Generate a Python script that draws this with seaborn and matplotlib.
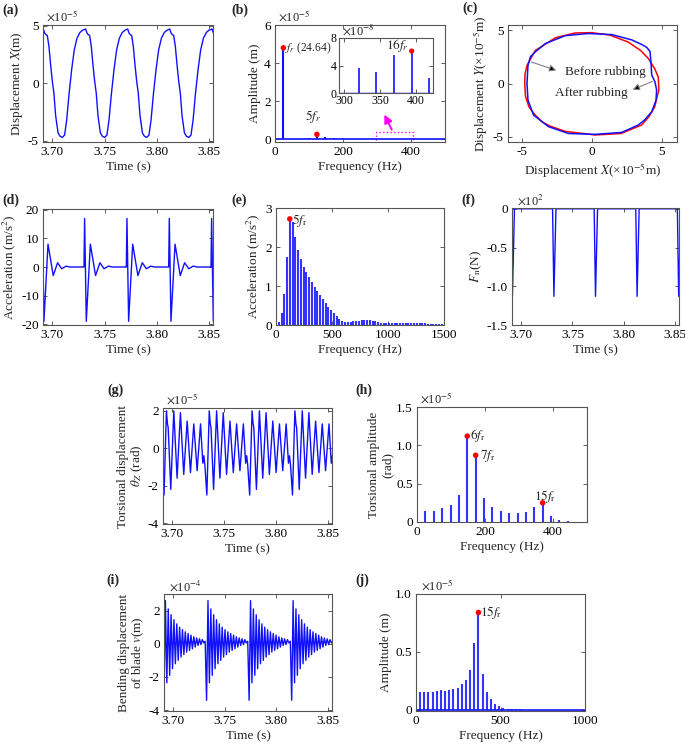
import numpy as np
import matplotlib
matplotlib.use("Agg")
import matplotlib.pyplot as plt
import seaborn as sns
from matplotlib.patches import Rectangle

# ---- data ----
FR = 24.64
T_LIM = (3.691, 3.854)

# (a) displacement X, one period after each peak (ms offsets), x1e-5 m
A_PEAK_T = [3.6507, 3.6913, 3.7319, 3.7722, 3.8125, 3.8531]
A_OFF_MS = [0, 1.3, 2.6, 3.8, 5.4, 7.0, 8.6, 10.2, 11.8, 14.1, 16.0, 18.2,
            20.4, 22.4, 24.6, 27.2, 29.7, 32.3, 35.1, 37.7]
A_VAL = [4.7, 4.35, 4.2, 4.15, 3.2, 1.6, 0.2, -0.9, -2.8, -4.3, -4.6, -4.7,
         -4.5, -3.2, -1.0, 1.2, 2.9, 3.9, 4.4, 4.6]

# (b) displacement spectrum, x1e-5 m
B_ORDER = np.arange(1, 21)
B_AMP = [4.8, 0.03, 0.03, 0.05, 0.25, 0.12, 0.04, 0.03, 0.03, 0.03,
         0.02, 0.02, 0.02, 0.02, 0.02, 0.02, 0.02, 0.02, 0.02, 0.02]
# inset, x1e-8 m
BI_ORDER = [13, 14, 15, 16, 17]
BI_AMP = [3.6, 3.1, 5.6, 6.1, 2.2]

# (c) orbits, x1e-5 m
C_RED_X = [0, 1.3, 2.6, 3.5, 4.05, 4.5, 4.76, 4.8, 4.5, 4.1, 3.57, 2.1, 0.24,
           -1.9, -3.0, -3.57, -4.1, -4.5, -4.75, -4.8, -4.78, -4.64, -4.05, -2.6, -1.2, 0]
C_RED_Y = [4.78, 4.55, 3.9, 3.1, 2.34, 1.4, 0.6, -0.6, -2.2, -3.1, -3.9, -4.7, -4.84,
           -4.5, -4.0, -3.6, -2.9, -2.2, -1.2, 0, 0.9, 1.7, 3.1, 4.3, 4.75, 4.78]
C_BLUE_X = [-0.24, 1.43, 2.86, 3.6, 3.93, 4.17, 4.24, 4.29, 4.52, 4.64, 4.6, 4.29, 3.8,
            3.33, 2.14, 0.24, -1.67, -3.1, -4.17, -4.57, -4.64, -4.57, -4.4, -4.05,
            -3.33, -1.9, -0.24]
C_BLUE_Y = [4.7, 4.6, 4.1, 3.65, 3.4, 3.0, 1.9, 0.8, 0.16, -0.6, -1.56, -2.66, -3.4,
            -3.9, -4.6, -4.78, -4.7, -4.06, -2.97, -1.56, 0, 1.7, 2.5, 2.97,
            3.75, 4.5, 4.7]

# (d) acceleration, one period after each impact
D_T = [3.6903, 3.7309, 3.7715, 3.8121, 3.8527]
D_OFF_MS = [-0.6, 0, 1.6, 5.5, 10.5, 14.7, 18.6, 22.9, 26.5, 39.5]
D_VAL = [0, 17, -19, 8, -3, 1.5, -0.6, 0.3, 0, 0]

# (e) acceleration spectrum
E_ORDER = np.arange(1, 61)
E_AMP = [0.08, 0.3, 0.8, 1.75, 2.72, 2.65, 2.25, 1.92, 1.68, 1.5,
         1.35, 1.22, 1.1, 0.98, 0.87, 0.76, 0.67, 0.56, 0.47, 0.38,
         0.3, 0.22, 0.15, 0.1, 0.08, 0.08, 0.08, 0.09, 0.1, 0.11,
         0.12, 0.12, 0.12, 0.12, 0.11, 0.1, 0.08, 0.06, 0.05, 0.04,
         0.04, 0.04, 0.04, 0.05, 0.05, 0.05, 0.05, 0.05, 0.05, 0.05,
         0.04, 0.04, 0.04, 0.04, 0.03, 0.03, 0.03, 0.03, 0.03, 0.02]

# (f) rubbing force, x1e2 N
F_T = [3.6904, 3.7309, 3.7715, 3.8121, 3.8527]
F_OFF_MS = [-0.3, 1.0, 3.0]
F_VAL = [0, -1.13, 0]

# (g) torsional displacement, x1e-5 rad
G_T = [3.6507, 3.6920, 3.7333, 3.7746, 3.8159]
G_OFF_MS = [0, 2.3, 3.3, 4.0, 6.5, 9.4, 12.6, 15.8, 19.0, 22.3, 25.5, 28.7,
            31.9, 35.2, 37.4, 38.4, 39.4]
G_VAL = [-2.5, 2.0, 1.3, 1.1, -2.2, 2.0, -1.6, 1.9, -1.4, 1.45, -1.3, 1.3,
         -1.2, 1.3, -0.8, -0.4, -0.9]

# (h) torsional spectrum, x1e-5 rad
H_ORDER = np.arange(1, 21)
H_AMP = [0.14, 0.15, 0.18, 0.22, 0.35, 1.12, 0.87, 0.31, 0.19, 0.14,
         0.12, 0.12, 0.13, 0.19, 0.25, 0.08, 0.03, 0.015, 0.005, 0.003]

# (i) blade bending, half-cycle samples per period, x1e-4 m
I_T = [3.6497, 3.6910, 3.7323, 3.7736, 3.8149]
I_STEP_MS = 1.377
I_VAL = [-3.4, 2.6, -2.35, 2.1, -1.9, 1.75, -1.5, 1.45, -1.2, 1.2,
         -1.0, 1.0, -0.8, 0.85, -0.65, 0.72, -0.5, 0.62, -0.4, 0.52,
         -0.3, 0.42, -0.2, 0.35, -0.1, 0.3, -0.05, 0.25, 0.05, 0.15]

# (j) bending spectrum, x1e-5 m
J_ORDER = np.arange(1, 41)
J_AMP = [0.15, 0.15, 0.15, 0.15, 0.16, 0.17, 0.165, 0.17, 0.18, 0.19,
         0.22, 0.26, 0.34, 0.58, 0.84, 0.31, 0.15, 0.09, 0.05, 0.03,
         0.015, 0.01, 0.005, 0.004, 0.003, 0.002, 0.002, 0.001, 0.001, 0.001,
         0.001, 0.001, 0.001, 0.001, 0.001, 0.001, 0.001, 0.001, 0.001, 0.001]

BLUE = "#1010ff"
W, H = 685, 747

sns.set_style("ticks")
plt.rcParams["font.family"] = ["Liberation Serif", "DejaVu Serif"]
plt.rcParams["mathtext.fontset"] = "stix"
plt.rcParams["axes.unicode_minus"] = False
plt.rcParams["font.size"] = 9.5

fig = plt.figure(figsize=(W / 100, H / 100), dpi=100)


def add_ax(x0, y0, x1, y1):
    ax = fig.add_axes([x0 / W, 1 - y1 / H, (x1 - x0) / W, (y1 - y0) / H])
    ax.tick_params(direction="in", top=True, right=True, length=3, width=0.6,
                   colors="#444444", labelcolor="black", labelsize=9.5, pad=3)
    for s in ax.spines.values():
        s.set_color("#555555")
        s.set_linewidth(0.8)
    return ax


def periodic(starts, offs_ms, vals):
    t = np.concatenate([s + np.asarray(offs_ms) / 1000.0 for s in starts])
    y = np.tile(vals, len(starts))
    return t, y


def mult(ax, s, x=0.02):
    ax.text(x, 1.005, s, transform=ax.transAxes, ha="left", va="bottom", fontsize=9)


def time_axis(ax):
    ax.set_xlim(*T_LIM)
    ax.set_xticks([3.70, 3.75, 3.80, 3.85])
    ax.set_xticklabels(["3.70", "3.75", "3.80", "3.85"])
    ax.set_xlabel("Time (s)", labelpad=2)


def label(x, y, s):
    fig.text(x / W, 1 - y / H, s, ha="left", va="center", fontsize=10, fontweight="bold")


# (a)
ax = add_ax(43, 25, 213, 142)
t, y = periodic(A_PEAK_T, A_OFF_MS, A_VAL)
sns.lineplot(x=t, y=y, ax=ax, color=BLUE, lw=1, sort=False, estimator=None)
ax.set_ylim(-5.1, 5.05)
ax.set_yticks([-5, 0, 5])
ax.set_yticklabels(["-5", "0", "5"])
ax.set_ylabel("Displacement $X$(m)", labelpad=2)
time_axis(ax)
mult(ax, r"$\times$10$^{-5}$")

# (b)
ax = add_ax(275, 25, 445, 142)
bf = B_ORDER * FR
ax.axhline(0, color=BLUE, lw=1.2)
ax.vlines(bf, 0, B_AMP, color=BLUE, lw=1.5)
sns.scatterplot(x=[bf[0], bf[4]], y=[B_AMP[0], B_AMP[4]], ax=ax, color="red",
                s=16, edgecolor="none", zorder=5)
ax.text(29, 4.8, r"$f_r$ (24.64)", va="center", ha="left", fontsize=8.3)
ax.text(113, 1.2, r"$5f_r$", va="center", ha="center", fontsize=9.5)
ax.add_patch(Rectangle((297, -0.42), 109, 0.8, fill=False, ec="magenta", ls=":", lw=1))
ax.annotate("", xy=(318, 1.42), xytext=(347, 0.37),
            arrowprops=dict(arrowstyle="-|>", color="magenta", lw=1.4, mutation_scale=12))
ax.set_xlim(0, 500)
ax.set_ylim(-0.15, 6)
ax.set_xticks([0, 200, 400])
ax.set_yticks([0, 2, 4, 6])
ax.set_xlabel("Frequency (Hz)", labelpad=2)
ax.set_ylabel("Amplitude (m)", labelpad=2)
mult(ax, r"$\times$10$^{-5}$")

axi = add_ax(339, 38, 433, 93)
bif = np.asarray(BI_ORDER) * FR
axi.vlines(bif, 0, BI_AMP, color=BLUE, lw=1.2)
axi.axhline(0, color=BLUE, lw=1)
sns.scatterplot(x=[bif[3]], y=[BI_AMP[3]], ax=axi, color="red", s=14, edgecolor="none", zorder=5)
axi.text(374, 6.9, r"$16f_r$", ha="center", va="center", fontsize=9.5)
axi.set_xlim(293, 424)
axi.set_ylim(0, 8)
axi.set_xticks([300, 350, 400])
axi.set_yticks([0, 4, 8])
axi.tick_params(labelsize=8.5)
axi.tick_params(axis="x", pad=1.5)
axi.tick_params(axis="y", pad=2)
axi.text(0.03, 1.0, r"$\times$10$^{-8}$", transform=axi.transAxes, ha="left", va="bottom", fontsize=9)

# (c)
ax = add_ax(508, 25, 677, 142)
sns.lineplot(x=C_RED_X, y=C_RED_Y, ax=ax, color="red", lw=1.1, sort=False, estimator=None)
sns.lineplot(x=C_BLUE_X, y=C_BLUE_Y, ax=ax, color=BLUE, lw=1.1, sort=False, estimator=None)
arrow = dict(arrowstyle="-|>", ec="gray", fc="black", lw=0.8, mutation_scale=10)
ax.annotate("", xy=(-2.35, 1.15), xytext=(-4.5, 2.1), arrowprops=arrow)
ax.text(-1.95, 1.1, "Before rubbing", ha="left", va="center", fontsize=9.5)
ax.annotate("", xy=(2.74, -0.69), xytext=(4.52, 0.3), arrowprops=arrow)
ax.text(2.55, -0.94, "After rubbing", ha="right", va="center", fontsize=9.5)
ax.set_xlim(-6, 6.1)
ax.set_ylim(-5.5, 5.5)
ax.set_xticks([-5, 0, 5])
ax.set_xticklabels(["-5", "0", "5"])
ax.set_yticks([-5, 0, 5])
ax.set_yticklabels(["-5", "0", "5"])
ax.set_xlabel(r"Displacement $X$(×10$^{-5}$m)", labelpad=2)
ax.set_ylabel(r"Displacement $Y$(×10$^{-5}$m)", labelpad=2)

# (d)
ax = add_ax(43, 209, 213, 325)
t, y = periodic(D_T, D_OFF_MS, D_VAL)
sns.lineplot(x=t, y=y, ax=ax, color=BLUE, lw=1, sort=False, estimator=None)
ax.set_ylim(-20.3, 20.3)
ax.set_yticks([-20, -10, 0, 10, 20])
ax.set_yticklabels(["-20", "-10", "0", "10", "20"])
ax.set_ylabel("Acceleration (m/s$^2$)", labelpad=2)
time_axis(ax)

# (e)
ax = add_ax(276, 208, 444, 325)
ef = E_ORDER * FR
ax.vlines(ef, 0, E_AMP, color=BLUE, lw=1.5, alpha=0.85)
sns.scatterplot(x=[ef[4]], y=[E_AMP[4]], ax=ax, color="red", s=16, edgecolor="none", zorder=5)
ax.text(140, 2.68, r"$5f_{\mathrm{r}}$", ha="left", va="center", fontsize=9.5)
ax.set_xlim(0, 1500)
ax.set_ylim(0, 3)
ax.set_xticks([0, 500, 1000, 1500])
ax.set_yticks([0, 1, 2, 3])
ax.set_xlabel("Frequency (Hz)", labelpad=2)
ax.set_ylabel("Acceleration (m/s$^2$)", labelpad=2)

# (f)
ax = add_ax(512, 208, 679, 325)
t, y = periodic(F_T, F_OFF_MS, F_VAL)
sns.lineplot(x=t, y=y, ax=ax, color=BLUE, lw=1, sort=False, estimator=None)
ax.set_ylim(-1.5, 0.01)
ax.set_yticks([0, -0.5, -1.0, -1.5])
ax.set_yticklabels(["0", "-0.5", "-1.0", "-1.5"])
ax.set_ylabel(r"$F_{\mathrm{n}}$(N)", labelpad=2)
time_axis(ax)
mult(ax, r"$\times$10$^{2}$", x=0.03)

# (g)
ax = add_ax(163, 408, 332, 524)
t, y = periodic(G_T, G_OFF_MS, G_VAL)
sns.lineplot(x=t, y=y, ax=ax, color=BLUE, lw=1, sort=False, estimator=None)
ax.set_ylim(-4.05, 2.15)
ax.set_yticks([-4, -2, 0, 2])
ax.set_yticklabels(["-4", "-2", "0", "2"])
ax.set_ylabel("Torsional displacement\n" + r"$\theta_Z$ (rad)", labelpad=2, linespacing=1.1)
time_axis(ax)
mult(ax, r"$\times$10$^{-5}$")

# (h)
ax = add_ax(417, 407, 587, 522)
hf = H_ORDER * FR
ax.vlines(hf, 0, H_AMP, color=BLUE, lw=1.5, alpha=0.85)
idx = [5, 6, 14]
sns.scatterplot(x=hf[idx], y=[H_AMP[i] for i in idx], ax=ax, color="red", s=16,
                edgecolor="none", zorder=5)
ax.text(156, 1.13, r"$6f_{\mathrm{r}}$", ha="left", va="center", fontsize=9.5)
ax.text(184, 0.86, r"$7f_{\mathrm{r}}$", ha="left", va="center", fontsize=9.5)
ax.text(377, 0.33, r"$15f_{\mathrm{r}}$", ha="center", va="center", fontsize=9.5)
ax.set_xlim(0, 500)
ax.set_ylim(0, 1.5)
ax.set_xticks([0, 200, 400])
ax.set_yticks([0, 0.5, 1.0, 1.5])
ax.set_yticklabels(["0", "0.5", "1.0", "1.5"])
ax.set_xlabel("Frequency (Hz)", labelpad=2)
ax.set_ylabel("Torsional amplitude\n(rad)", labelpad=2, linespacing=1.1)
mult(ax, r"$\times$10$^{-5}$")

# (i)
ax = add_ax(164, 594, 332, 711)
t = np.concatenate([s + np.arange(len(I_VAL)) * I_STEP_MS / 1000.0 for s in I_T])
y = np.tile(I_VAL, len(I_T))
sns.lineplot(x=t, y=y, ax=ax, color=BLUE, lw=1, sort=False, estimator=None)
ax.set_ylim(-4.05, 3.0)
ax.set_yticks([-4, -2, 0, 2])
ax.set_yticklabels(["-4", "-2", "0", "2"])
ax.set_ylabel("Bending displacement\nof blade $v$(m)", labelpad=2, linespacing=1.1)
time_axis(ax)
mult(ax, r"$\times$10$^{-4}$", x=0.03)

# (j)
ax = add_ax(416, 594, 585, 711)
jf = J_ORDER * FR
ax.vlines(jf, 0, J_AMP, color=BLUE, lw=1.5, alpha=0.85)
ax.axhline(0, color=BLUE, lw=1.2)
sns.scatterplot(x=[jf[14]], y=[J_AMP[14]], ax=ax, color="red", s=16, edgecolor="none", zorder=5)
ax.text(376, 0.84, r"$15f_{\mathrm{r}}$", ha="left", va="center", fontsize=9.5)
ax.set_xlim(0, 1000)
ax.set_ylim(-0.01, 1.0)
ax.set_xticks([0, 500, 1000])
ax.set_yticks([0, 0.5, 1.0])
ax.set_yticklabels(["0", "0.5", "1.0"])
ax.set_xlabel("Frequency (Hz)", labelpad=2)
ax.set_ylabel("Amplitude (m)", labelpad=2)
mult(ax, r"$\times$10$^{-5}$", x=0.03)

# panel letters
label(2, 10, "(a)")
label(231, 10, "(b)")
label(462, 8, "(c)")
label(2, 200, "(d)")
label(231, 200, "(e)")
label(461, 200, "(f)")
label(107, 390, "(g)")
label(355, 390, "(h)")
label(106, 580, "(i)")
label(355, 580, "(j)")

fig.savefig("out.png", dpi=100)
